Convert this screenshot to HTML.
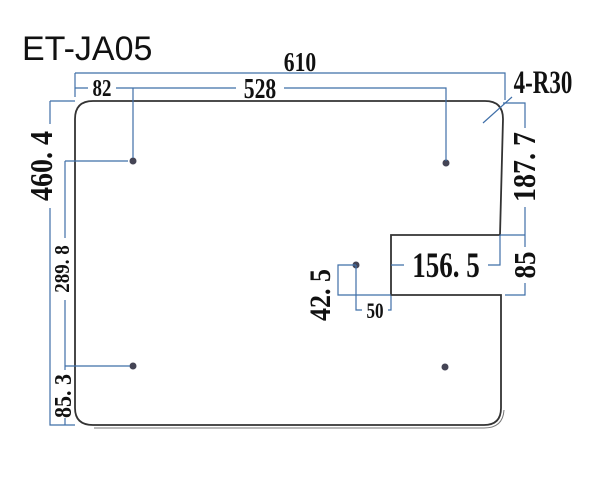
<!DOCTYPE html>
<html><head><meta charset="utf-8"><style>
html,body{margin:0;padding:0;background:#fff;}
svg{display:block;}
.d{stroke:#3f6fa8;stroke-width:1.2;fill:none;}
.t{font-family:"Liberation Serif",serif;font-weight:bold;fill:#111;}
</style></head><body>
<svg width="600" height="500" viewBox="0 0 600 500" xmlns="http://www.w3.org/2000/svg">
<text x="22" y="60" font-family="Liberation Sans,sans-serif" font-size="34" fill="#111">ET-JA05</text>
<path d="M93,101 H485 Q503,101 503,119 L500,235 H391 V295 H501 V408 Q501,425 484,425 H93 Q75,425 75,408 V119 Q75,101 93,101 Z" fill="none" stroke="#333" stroke-width="1.8"/>
<path d="M94,428 H484 Q503,428 504,410" fill="none" stroke="#777" stroke-width="1"/>
<g fill="#445">
<circle cx="133" cy="161" r="3.5"/><circle cx="446" cy="163" r="3.5"/>
<circle cx="133" cy="366" r="3.5"/><circle cx="445" cy="367" r="3.5"/>
<circle cx="356" cy="265" r="3.5"/>
</g>
<path class="d" d="M75,73 H505 V100 M75,73 V97 M75,88 H88 M116,88 H236 M284,88 H446 V161 M133,88 V158"/>
<path class="d" d="M50,101 H75 M50,101 V124 M50,208 V425 H75 M65,161 H128 M65,366 H130 M65,161 V238 M65,300 V370 M65,418 V425"/>
<path class="d" d="M503,103 H525 V128 M525,207 V235 M500,235 H525 V247 M525,283 V295 H505 M500,235 V265 H488 M391,265 H404"/>
<path class="d" d="M356,265 H338 V295 H391 M356,265 V310 H362 M388,310 H391 V296"/>
<path class="d" d="M483,123 L512,97"/>
<g transform="translate(300,71) scale(0.9,1.15)"><text class="t" x="0" y="0" font-size="24" text-anchor="middle">610</text></g>
<g transform="translate(102,96) scale(0.9,1.15)"><text class="t" font-size="21" text-anchor="middle">82</text></g>
<g transform="translate(260,98) scale(0.9,1.2)"><text class="t" font-size="24" text-anchor="middle">528</text></g>
<g transform="translate(543,93) scale(0.85,1.2)"><text class="t" font-size="27" text-anchor="middle">4-R30</text></g>
<g transform="translate(446,277) scale(0.9,1.2)"><text class="t" font-size="30" text-anchor="middle">156. 5</text></g>
<g transform="translate(375,318) scale(0.9,1.15)"><text class="t" font-size="19" text-anchor="middle">50</text></g>
<g transform="translate(52,166) rotate(-90) scale(1,1.15)"><text class="t" font-size="28" text-anchor="middle">460. 4</text></g>
<g transform="translate(69,269) rotate(-90) scale(1,1.1)"><text class="t" font-size="19" font-weight="normal" text-anchor="middle">289. 8</text></g>
<g transform="translate(71,396) rotate(-90) scale(1,1.1)"><text class="t" font-size="22" text-anchor="middle">85. 3</text></g>
<g transform="translate(535,167) rotate(-90) scale(1,1.15)"><text class="t" font-size="28" text-anchor="middle">187. 7</text></g>
<g transform="translate(535,265) rotate(-90) scale(1,1.15)"><text class="t" font-size="27" text-anchor="middle">85</text></g>
<g transform="translate(330,295) rotate(-90) scale(1,1.15)"><text class="t" font-size="26" text-anchor="middle">42. 5</text></g>
</svg>
</body></html>
